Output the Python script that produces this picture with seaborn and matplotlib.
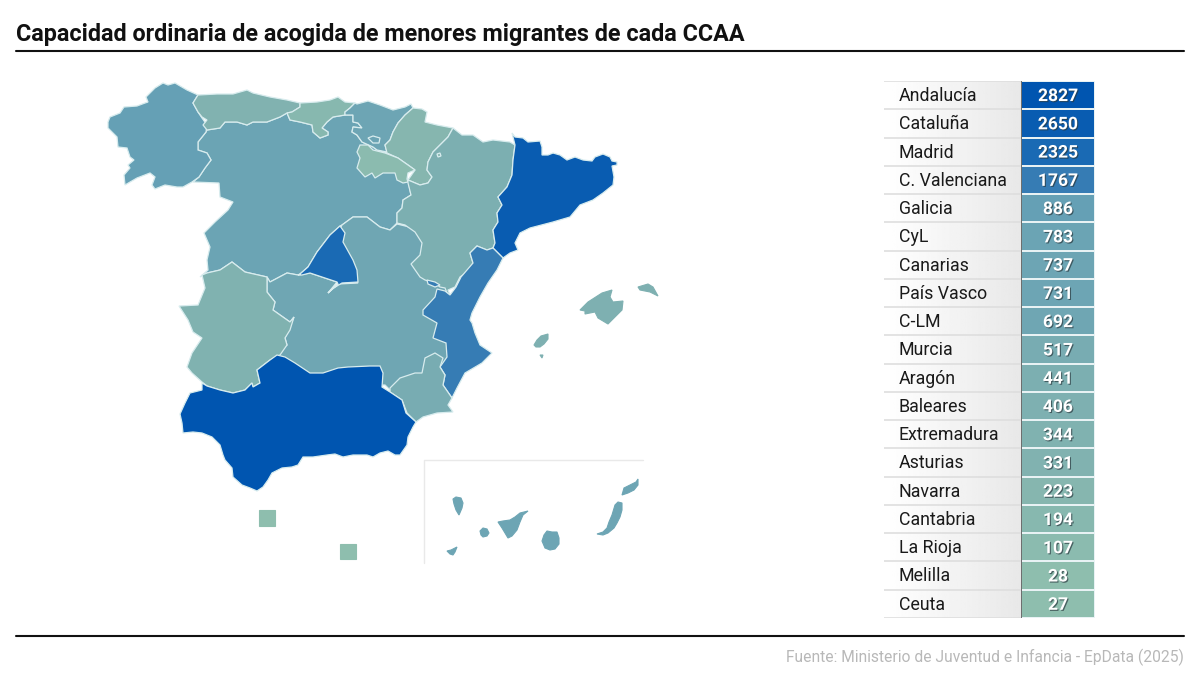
import matplotlib
matplotlib.use('Agg')
import matplotlib.pyplot as plt
import matplotlib.patheffects as pe
from matplotlib.colors import LinearSegmentedColormap
import numpy as np
import pandas as pd
import seaborn as sns

title = 'Capacidad ordinaria de acogida de menores migrantes de cada CCAA'
source = 'Fuente: Ministerio de Juventud e Infancia - EpData (2025)'

regions = ['Andalucía', 'Cataluña', 'Madrid', 'C. Valenciana', 'Galicia', 'CyL', 'Canarias',
           'País Vasco', 'C-LM', 'Murcia', 'Aragón', 'Baleares', 'Extremadura', 'Asturias',
           'Navarra', 'Cantabria', 'La Rioja', 'Melilla', 'Ceuta']
places = [2827, 2650, 2325, 1767, 886, 783, 737, 731, 692, 517, 441, 406, 344, 331, 223, 194, 107, 28, 27]

cyl = [(207,130),(220,128),(225,122),(237,122),(247,125),(253,122),(267,122),(280,117),(287,113),(290,120),(300,122),
       (312,125),(313,132),(320,138),(328,135),(328,132),(322,128),(327,122),(333,117),(345,115),(353,115),(353,122),
       (358,123),(362,128),(353,127),(352,132),(357,135),(362,142),(373,147),(377,150),(387,153),(398,158),(408,180),
       (411,195),(403,200),(402,208),(397,213),(397,223),(390,230),(380,227),(367,217),(353,217),(342,225),(340,226),
       (330,235),(317,252),(308,267),(300,274),(298,275),(287,273),(270,282),(267,277),(245,272),(232,262),(220,270),
       (207,273),(200,277),(208,270),(207,260),(210,247),(204,233),(215,222),(228,210),(233,202),(220,197),(219,183),
       (193,182),(199,177),(205,168),(211,160),(207,153),(198,150),(198,142),(206,132)]
clm = [(342,225),(353,217),(367,217),(380,227),(390,230),(397,224),(430,232),(440,262),(448,292),(437,300),(430,315),
       (445,330),(450,345),(450,365),(435,370),(425,385),(395,395),(385,385),(380,385),(277,372),(276,352),(287,345),
       (285,338),(294,317),(290,322),(273,310),(275,302),(267,292),(267,277),(270,282),(287,273),(298,275),(310,273),
       (337,282),(328,293),(338,284),(358,283),(345,262),(338,232)]
galicia = [(108,122),(110,117),(120,113),(124,107),(137,106),(145,103),(148,102),(146,97),(155,88),(163,83),(168,85),
           (175,83),(187,90),(198,95),(193,103),(198,112),(202,118),(207,125),(206,132),(198,142),(198,150),(207,153),
           (211,160),(205,168),(199,177),(192,182),(183,187),(177,187),(165,185),(155,189),(152,185),(155,177),(150,173),
           (137,178),(125,185),(124,175),(130,168),(128,165),(134,160),(130,157),(127,148),(118,147),(117,137),(108,128)]
asturias = [(198,95),(217,94),(233,94),(247,90),(253,93),(270,97),(287,100),(300,103),(300,107),(292,112),(287,113),
            (280,117),(267,122),(253,122),(247,125),(237,122),(225,122),(220,128),(207,130),(203,125),(207,120),(202,117),
            (198,112),(193,103)]
cantabria = [(300,103),(317,102),(330,100),(338,97),(345,102),(355,103),(350,108),(345,112),(345,115),(333,117),(327,122),
             (322,128),(328,132),(328,135),(320,138),(313,132),(312,125),(300,122),(290,120),(287,113),(292,112),(300,107)]
pais_vasco = [(357,104),(368,101),(380,105),(393,110),(405,107),(411,104),(413,108),(405,115),(398,123),(393,132),(390,140),
              (385,145),(387,152),(377,150),(373,147),(362,142),(357,135),(352,132),(353,127),(362,128),(358,123),(353,122),
              (353,115),(345,115),(345,112),(350,108),(355,103)]
trevino = [(368,138),(373,136),(380,138),(379,143),(373,143)]
navarra = [(413,108),(422,109),(427,112),(425,122),(437,125),(453,128),(448,137),(440,145),(433,152),(428,162),(427,170),
           (432,177),(428,183),(420,185),(408,180),(415,170),(408,165),(398,158),(387,153),(385,145),(390,140),(393,132),
           (398,123),(405,115)]
petilla = [(437,154),(440,153),(441,156),(438,157)]
rioja = [(360,145),(368,145),(373,150),(385,153),(398,158),(408,165),(415,170),(408,173),(407,179),(408,182),(403,183),
         (397,180),(395,173),(383,173),(375,178),(372,173),(365,177),(357,168),(360,158),(357,152)]
aragon = [(453,128),(462,135),(473,135),(483,142),(493,140),(510,142),(515,145),(513,160),(512,175),(507,187),(498,197),
          (502,205),(497,213),(498,222),(493,230),(495,243),(493,248),(487,250),(477,246),(470,253),(473,263),(467,272),
          (460,277),(455,287),(448,290),(450,295),(447,293),(445,288),(440,287),(435,283),(425,280),(420,277),(411,264),
          (420,255),(422,243),(415,232),(405,225),(397,223),(397,213),(402,208),(403,200),(411,195),(408,183),(408,180),
          (420,185),(428,183),(432,177),(427,170),(428,162),(433,152),(440,145),(448,137)]
cataluna = [(512,133),(515,137),(523,138),(528,142),(540,141),(542,147),(542,155),(548,155),(553,153),(560,155),(567,160),
            (575,157),(583,160),(592,161),(595,157),(603,154),(610,157),(612,161),(617,162),(617,165),(612,166),(614,177),
            (613,185),(603,193),(593,200),(580,205),(570,217),(553,222),(530,228),(520,233),(515,243),(518,250),(510,253),
            (503,258),(493,248),(495,243),(493,230),(498,222),(497,213),(502,205),(498,197),(507,187),(512,175),(513,160),
            (515,145)]
valencia = [(493,248),(503,258),(497,270),(488,283),(480,297),(472,313),(470,320),(472,323),(475,333),(480,345),(492,353),
            (482,363),(465,373),(457,388),(452,398),(443,385),(445,375),(440,367),(447,357),(446,343),(433,338),(437,323),
            (423,315),(423,310),(435,297),(437,289),(445,291),(450,295),(456,287),(461,277),(473,263),(470,253),(477,246),
            (487,250)]
ademuz = [(427,280),(435,282),(440,285),(435,287),(428,284)]
murcia = [(390,388),(400,378),(415,373),(422,373),(425,358),(435,353),(443,358),(440,367),(445,375),(443,385),(452,398),
          (448,405),(453,412),(437,413),(423,417),(416,422),(407,413),(402,400),(390,392)]
andalucia = [(202,383),(207,386),(220,390),(233,393),(245,390),(252,383),(253,387),(260,383),(257,370),(270,360),(277,355),
             (285,357),(295,363),(310,373),(323,373),(338,368),(348,367),(370,366),(380,366),(383,373),(382,387),(390,392),
             (402,400),(406,413),(416,422),(413,427),(408,437),(407,445),(400,455),(395,455),(388,451),(380,453),(373,457),
             (367,455),(353,455),(343,457),(335,454),(327,455),(313,457),(303,457),(298,465),(292,467),(282,468),(272,473),
             (268,480),(263,487),(257,491),(250,488),(242,485),(233,477),(232,468),(225,460),(223,455),(220,445),(212,437),
             (202,433),(193,432),(183,433),(182,423),(180,414),(185,403),(190,393),(202,390)]
extremadura = [(202,275),(207,273),(220,270),(232,262),(245,272),(267,277),(267,292),(275,302),(273,310),(290,322),(294,317),
               (290,330),(285,338),(287,345),(280,355),(270,360),(257,370),(260,383),(253,387),(252,383),(245,390),(233,393),
               (220,390),(207,386),(202,382),(192,373),(187,367),(192,353),(202,338),(193,332),(188,320),(179,306),(198,305),
               (205,288)]
madrid = [(340,226),(345,233),(343,242),(353,260),(357,270),(358,282),(342,283),(332,289),(328,293),(338,284),(337,282),
          (310,273),(302,275),(298,275),(300,274),(308,267),(317,252),(330,235)]
mallorca = [(580,310),(588,302),(602,293),(612,290),(610,297),(613,302),(623,301),(622,310),(608,324),(598,318),(595,312),
            (585,314),(585,311)]
menorca = [(638,287),(648,284),(653,287),(658,296),(650,292),(640,290)]
ibiza = [(534,345),(537,340),(541,336),(548,334),(548,339),(544,344),(540,347),(536,347)]
formentera = [(540,355),(543,355),(542,358)]
la_palma = [(453,499),(456,497),(461,498),(463,503),(462,508),(459,515),(456,510),(454,504)]
hierro = [(447,551),(451,550),(455,548),(457,547),(455,552),(453,555),(450,554)]
gomera = [(480,531),(483,528),(487,529),(489,533),(487,536),(483,537),(481,535)]
tenerife = [(498,522),(503,521),(510,520),(515,517),(520,513),(528,511),(523,515),(520,522),(517,530),(512,536),(508,538),
            (505,533),(502,528)]
gran_canaria = [(542,541),(544,535),(547,531),(552,532),(557,532),(559,538),(559,544),(555,549),(550,550),(545,548)]
fuerteventura = [(597,534),(603,532),(607,528),(609,522),(612,515),(615,505),(618,502),(622,503),(622,510),(620,517),
                 (617,523),(614,528),(608,533),(603,535)]
lanzarote = [(622,495),(624,488),(630,485),(636,482),(638,479),(638,485),(634,490),(628,493)]
ceuta = [(259,510),(275,510),(275,526),(259,526)]
melilla = [(340,544),(356,544),(356,559),(340,559)]

# draw order matters, neighbours painted later keep the detailed border
map_shapes = [('CyL', cyl), ('C-LM', clm), ('Galicia', galicia), ('Asturias', asturias), ('Cantabria', cantabria),
              ('País Vasco', pais_vasco), ('CyL', trevino), ('Navarra', navarra), ('La Rioja', rioja),
              ('Aragón', aragon), ('Navarra', petilla), ('Cataluña', cataluna), ('C. Valenciana', valencia),
              ('C. Valenciana', ademuz), ('Murcia', murcia), ('Extremadura', extremadura), ('Andalucía', andalucia),
              ('Madrid', madrid)]
islands = [('Baleares', mallorca), ('Baleares', menorca), ('Baleares', ibiza), ('Baleares', formentera),
           ('Canarias', la_palma), ('Canarias', hierro), ('Canarias', gomera), ('Canarias', tenerife),
           ('Canarias', gran_canaria), ('Canarias', fuerteventura), ('Canarias', lanzarote),
           ('Ceuta', ceuta), ('Melilla', melilla)]

sns.set_theme(style='white')
plt.rcParams['font.family'] = ['Roboto', 'DejaVu Sans']

vmax = max(places)
cmap = LinearSegmentedColormap.from_list('ccaa', [(0, '#8fbfae'), (330 / vmax, '#81b2b0'), (886 / vmax, '#65a0b5'),
                                                  (1767 / vmax, '#367cb4'), (2325 / vmax, '#1a6ab4'), (1, '#0055b0')])
values = dict(zip(regions, places))

W, H = 1200, 688
fig = plt.figure(figsize=(W / 100, H / 100), dpi=100, facecolor='white')

# page axes in pixels: rules, texts and the map
page = fig.add_axes([0, 0, 1, 1])
page.set_xlim(0, W)
page.set_ylim(H, 0)
page.axis('off')
page.text(16, 34.5, title, fontsize=16.83, fontweight='bold', color='#111111', va='center', ha='left')
page.plot([16, 1184], [50.5, 50.5], color='#111111', lw=1.5)
page.plot([16, 1184], [635.5, 635.5], color='#111111', lw=1.5)
page.text(1184, 657, source, fontsize=11.25, color='#b8b8b8', va='center', ha='right')
page.plot([643, 424, 424], [460, 460, 563], color='#e9e9e9', lw=1)

for name, shape in map_shapes:
    page.fill(*zip(*shape), facecolor=cmap(values[name] / vmax), edgecolor='#d8ecee', lw=0.9, zorder=3)
for name, shape in islands:
    page.fill(*zip(*shape), color=cmap(values[name] / vmax), lw=0.8, zorder=3)

# grey fade behind the names
x0, x1, y0, y1 = 884, 1021, 81, 618
label_ax = fig.add_axes([x0 / W, 1 - y1 / H, (x1 - x0) / W, (y1 - y0) / H])
fade = np.tile(np.linspace(1, 0.91, 100), (2, 1))
label_ax.imshow(fade, cmap='gray', vmin=0, vmax=1, aspect='auto', extent=(0, 1, len(regions), 0))
label_ax.set_xticks([])
label_ax.set_yticks([])
label_ax.grid(False)
for y in range(len(regions) + 1):
    label_ax.axhline(y, color='#dedede', lw=1.2)
sns.despine(ax=label_ax, left=True, bottom=True)

# value column, heatmap with the row names as its tick labels
x0, x1 = 1021, 1095
value_ax = fig.add_axes([x0 / W, 1 - y1 / H, (x1 - x0) / W, (y1 - y0) / H])
table = pd.DataFrame({'plazas': places}, index=regions)
sns.heatmap(table, ax=value_ax, cmap=cmap, vmin=0, vmax=vmax, cbar=False, annot=True, fmt='d',
            linewidths=1.2, linecolor='#e8f2f4', xticklabels=False,
            annot_kws={'fontsize': 12.6, 'fontweight': 'bold', 'color': 'white'})
value_ax.set_ylabel('')
value_ax.set_yticks(np.arange(len(regions)) + 0.53, regions)
value_ax.tick_params(axis='y', left=False, pad=82, labelsize=12.8, labelcolor='#1a1a1a')
for tick in value_ax.get_yticklabels():
    tick.set_ha('left')
    tick.set_rotation(0)
value_ax.axvline(0, color='#555555', lw=1.2)
for t in value_ax.texts:
    t.set_y(t.get_position()[1] + 0.05)
    t.set_path_effects([pe.withSimplePatchShadow(offset=(0.8, -0.8), shadow_rgbFace='#2a3a40', alpha=0.7)])

fig.savefig('out.png', dpi=100)
